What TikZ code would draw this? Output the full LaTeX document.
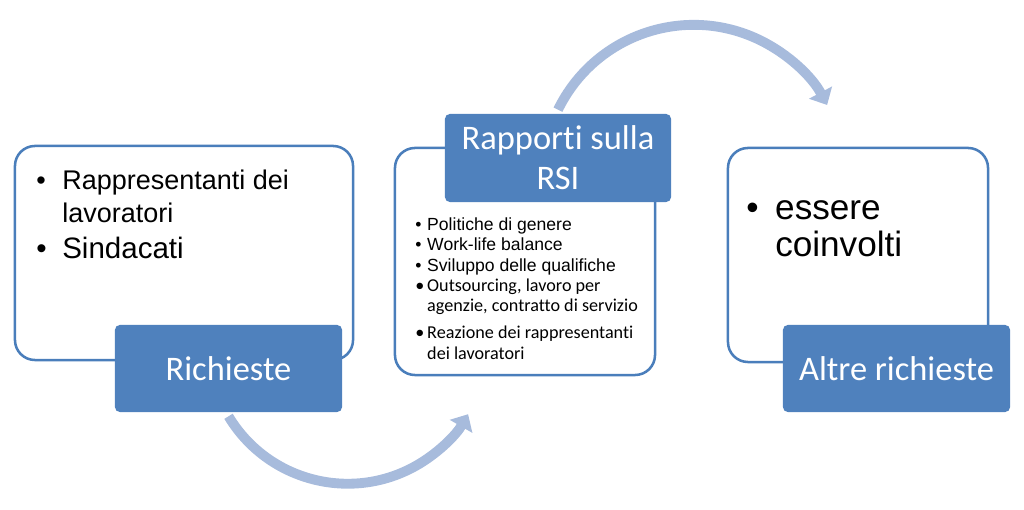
\documentclass[tikz,border=0pt]{standalone}
\usepackage{fontspec}
\setmainfont{Liberation Sans}
\newfontfamily\calibri[Ligatures=NoCommon]{Carlito}
\usetikzlibrary{arrows.meta, positioning}
\definecolor{boxblue}{RGB}{79,129,189}
\definecolor{lineblue}{RGB}{74,126,187}
\definecolor{arcblue}{RGB}{167,187,220}
\newcommand\calsmall{\calibri\fontsize{12.9}{14.4}\selectfont}

\begin{document}
\begin{tikzpicture}[x=0.025cm, y=0.025cm,
    panel/.style={draw=lineblue, line width=1.8pt, rounded corners=0.5cm, fill=white, inner sep=0pt, minimum width=6.5cm, minimum height=5.35cm},
    title/.style={fill=boxblue, rounded corners=0.12cm, inner sep=0pt, minimum width=5.675cm, minimum height=2.175cm, text=white, align=center, font=\calibri\fontsize{24.5}{28.5}\selectfont},
    list/.style={anchor=base west, inner sep=0pt},
    flow/.style={arcblue, line width=7pt, -{Triangle[width=18pt, length=10pt]}}
]
\useasboundingbox (0,0) rectangle (1024,510);

% Riquadri
\node[panel, minimum width=8.45cm] (left) at (184,257) {};
\node[panel, minimum height=5.675cm] (mid) at (525,248.5) {};
\node[panel] (right) at (858,255) {};

% Titoli
\node[title] (req) at (228.5,141.5) {Richieste};
\node[title, minimum width=5.65cm, minimum height=2.2cm] (rsi) at (558,352) {Rapporti sulla\\RSI};
\node[title] (altre) at (896.5,141.5) {Altre richieste};

% Elenchi
\node[list] (leftlist) at (36,320) {\fontsize{19.2}{22.8}\selectfont
  \begin{tabular}[t]{@{}p{18.5pt}@{}l@{}}
  \textbullet & Rappresentanti dei\\
   & lavoratori\\[2.8pt]
  {\fontsize{21}{25}\selectfont\textbullet} & {\fontsize{21}{25}\selectfont Sindacati}
  \end{tabular}};
\node[list] (midlist) at (415,279.3) {\fontsize{12.5}{14.4}\selectfont
  \begin{tabular}[t]{@{}p{8.5pt}@{}l@{}}
  \textbullet & Politiche di genere\\
  \textbullet & Work-life balance\\
  \textbullet & Sviluppo delle qualifiche\\
  \calsmall\textbullet & \calsmall Outsourcing, lavoro per\\
   & \calsmall agenzie, contratto di servizio\\[5pt]
  \calsmall\textbullet & \calsmall Reazione dei rappresentanti\\
   & \calsmall dei lavoratori
  \end{tabular}};
\node[list] (rightlist) at (746,290) {\fontsize{25}{26.3}\selectfont
  \begin{tabular}[t]{@{}p{20.6pt}@{}l@{}}
  \textbullet & essere\\
   & coinvolti
  \end{tabular}};

% Frecce
\draw[flow] ([yshift=-0.1cm]req.south) arc[start angle=211, end angle=330, radius=3.475cm];
\draw[flow] ([yshift=0.1cm]rsi.north) arc[start angle=154, end angle=28, radius=3.775cm];

\end{tikzpicture}
\end{document}
